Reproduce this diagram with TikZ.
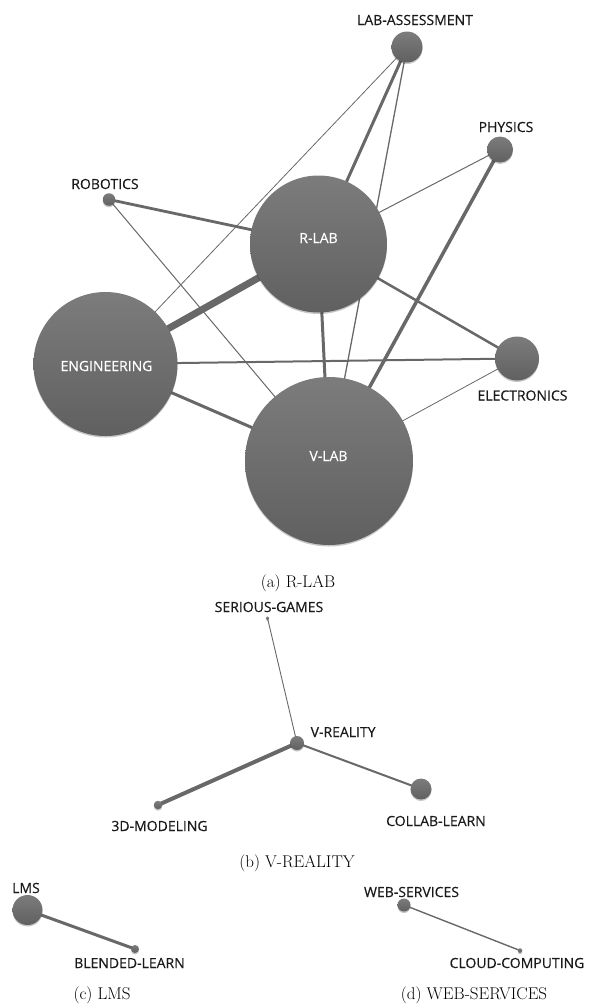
\documentclass[tikz,border=0pt]{standalone}
\usepackage{fontspec}
\newfontfamily\lblfont[FakeBold=0.35]{Open Sans}
\usetikzlibrary{shapes.geometric,shadows,backgrounds}
\definecolor{nodetop}{HTML}{7C7C7C}
\definecolor{nodebot}{HTML}{606060}
\definecolor{edgecol}{HTML}{686868}
\definecolor{lbltext}{HTML}{1A1A1A}
\tikzset{
  nd/.style={circle, inner sep=0pt, draw=none, top color=nodetop, bottom color=nodebot,
    minimum size=#1,
    drop shadow={shadow xshift=0pt, shadow yshift=-1.5pt, opacity=0.22, fill=black}},
  lbl/.style={font=\lblfont\fontsize{14}{16}\selectfont, text=lbltext, inner sep=0pt},
  inlbl/.style={font=\lblfont\fontsize{14}{16}\selectfont, text=white, inner sep=0pt},
  capt/.style={font=\fontsize{17}{19}\selectfont, inner sep=0pt, anchor=base},
  ed/.style={draw=edgecol, line width=#1},
  ed/.default=1pt
}
\begin{document}
\begin{tikzpicture}[x=1pt,y=-1pt]
\path[use as bounding box] (0,0) rectangle (589,1007);
% ---------- (a) R-LAB ----------
\node[nd=31pt] (la) at (407,47) {};
\node[nd=26pt] (ph) at (500,149.5) {};
\node[nd=12.5pt] (rob) at (109,199.5) {};
\node[nd=137pt] (rlab) at (318.5,244) {};
\node[nd=144pt] (eng) at (105.5,364) {};
\node[nd=168pt] (vlab) at (329,461) {};
\node[nd=44pt] (elec) at (517,358.5) {};
\node[lbl] (lal) at (415,20) {LAB-ASSESSMENT};
\node[lbl] (phl) at (506,127) {PHYSICS};
\node[lbl] (robl) at (105,184) {ROBOTICS};
\node[lbl] (elecl) at (522.5,395.5) {ELECTRONICS};
\node[inlbl] (rlabl) at (318.5,238) {R-LAB};
\node[inlbl] (engl) at (106.5,366) {ENGINEERING};
\node[inlbl] (vlabl) at (328.5,456) {V-LAB};
\node[capt] (capa) at (298,587) {(a) R-LAB};
\begin{scope}[on background layer]
\draw[ed=0.8pt] (la.center) -- (eng.center);
\draw[ed=3pt] (la.center) -- (rlab.center);
\draw[ed=1.3pt] (la.center) -- (vlab.center);
\draw[ed=1pt] (ph.center) -- (rlab.center);
\draw[ed=3.5pt] (ph.center) -- (vlab.center);
\draw[ed=2.8pt] (rob.center) -- (rlab.center);
\draw[ed=1pt] (rob.center) -- (vlab.center);
\draw[ed=7pt] (rlab.center) -- (eng.center);
\draw[ed=2.5pt] (rlab.center) -- (elec.center);
\draw[ed=3pt] (rlab.center) -- (vlab.center);
\draw[ed=2pt] (eng.center) -- (elec.center);
\draw[ed=3pt] (eng.center) -- (vlab.center);
\draw[ed=0.8pt] (elec.center) -- (vlab.center);
\end{scope}
% ---------- (b) V-REALITY ----------
\node[nd=3.5pt] (sg) at (267.5,618) {};
\node[nd=14pt] (vr) at (297,743) {};
\node[nd=8.5pt] (dm) at (158,805) {};
\node[nd=21pt] (cl) at (421,789) {};
\node[lbl] (sgl) at (269,607) {SERIOUS-GAMES};
\node[lbl, anchor=west] (vrl) at (310.5,732) {V-REALITY};
\node[lbl] (dml) at (159.5,826) {3D-MODELING};
\node[lbl] (cll) at (436,821) {COLLAB-LEARN};
\node[capt] (capb) at (297,867) {(b) V-REALITY};
\begin{scope}[on background layer]
\draw[ed=0.9pt] (sg.center) -- (vr.center);
\draw[ed=4pt] (vr.center) -- (dm.center);
\draw[ed=2pt] (vr.center) -- (cl.center);
\end{scope}
% ---------- (c) LMS ----------
\node[nd=30pt] (lms) at (27.5,910) {};
\node[nd=8pt] (bl) at (135,949) {};
\node[lbl] (lmsl) at (26,888) {LMS};
\node[lbl] (bll) at (129.5,963) {BLENDED-LEARN};
\node[capt] (capc) at (102,999) {(c) LMS};
\begin{scope}[on background layer]
\draw[ed=3pt] (lms.center) -- (bl.center);
\end{scope}
% ---------- (d) WEB-SERVICES ----------
\node[nd=13pt] (ws) at (404,905) {};
\node[nd=4.5pt] (cc) at (520,950.5) {};
\node[lbl] (wsl) at (411.5,892) {WEB-SERVICES};
\node[lbl] (ccl) at (517,963) {CLOUD-COMPUTING};
\node[capt] (capd) at (474,999) {(d) WEB-SERVICES};
\begin{scope}[on background layer]
\draw[ed=1.4pt] (ws.center) -- (cc.center);
\end{scope}
\end{tikzpicture}
\end{document}
